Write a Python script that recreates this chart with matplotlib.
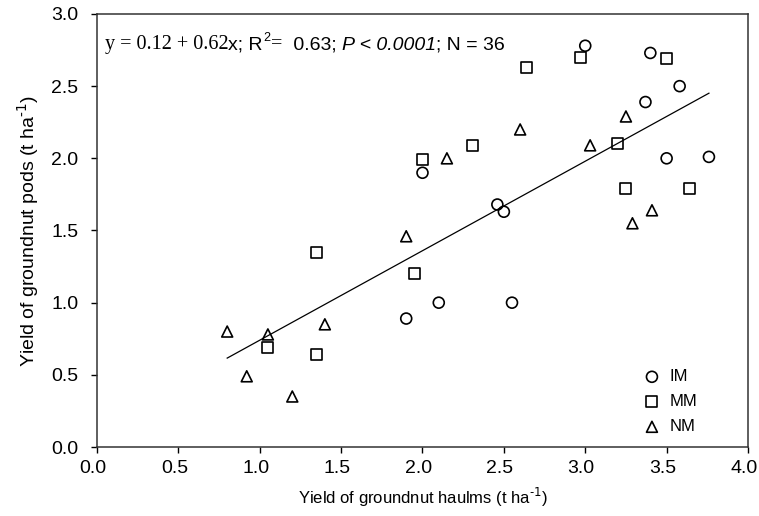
import matplotlib
matplotlib.use("Agg")
import matplotlib.pyplot as plt
import matplotlib.transforms as mtrans
import numpy as np

plt.rcParams['font.family'] = ['Liberation Sans', 'DejaVu Sans']

# haulm yield (x) and pod yield (y), t/ha, per treatment
im_x = [3.00, 3.40, 3.58, 3.37, 3.50, 3.76, 2.00, 2.46, 2.50, 2.10, 2.55, 1.90]
im_y = [2.78, 2.73, 2.50, 2.39, 2.00, 2.01, 1.90, 1.68, 1.63, 1.00, 1.00, 0.89]
mm_x = [2.97, 3.50, 3.20, 3.25, 3.64, 2.64, 2.31, 2.00, 1.95, 1.35, 1.05, 1.35]
mm_y = [2.70, 2.69, 2.10, 1.79, 1.79, 2.63, 2.09, 1.99, 1.20, 1.35, 0.69, 0.64]
nm_x = [3.25, 3.03, 3.41, 3.29, 2.60, 2.15, 1.90, 0.80, 1.05, 1.40, 0.92, 1.20]
nm_y = [2.29, 2.09, 1.64, 1.55, 2.20, 2.00, 1.46, 0.80, 0.78, 0.85, 0.49, 0.35]

intercept = 0.12
slope = 0.62
fit_range = [0.80, 3.76]

fig = plt.figure(figsize=(7.59, 5.16), dpi=100)
ax = fig.add_axes([0.1278, 0.1337, 0.8577, 0.8392])

mk = dict(s=62, facecolors='none', edgecolors='black', linewidths=1.2, zorder=3)
ax.scatter(im_x, im_y, marker='o', label='IM', **mk)
ax.scatter(mm_x, mm_y, marker='s', label='MM', **mk)
ax.scatter(nm_x, nm_y, marker='^', label='NM', **mk)

xf = np.array(fit_range)
ax.plot(xf, intercept + slope * xf, color='black', lw=0.9, zorder=2)

ax.set_xlim(0, 4.0)
ax.set_ylim(0, 3.0)
ax.set_xticks(np.arange(0, 4.01, 0.5))
ax.set_yticks(np.arange(0, 3.01, 0.5))
ax.xaxis.set_major_formatter(matplotlib.ticker.FormatStrFormatter('%.1f'))
ax.yaxis.set_major_formatter(matplotlib.ticker.FormatStrFormatter('%.1f'))
ax.tick_params(direction='out', length=4.5, width=1, labelsize=14, colors='black')
ax.tick_params(axis='x', pad=5)
ax.tick_params(axis='y', pad=9)
# x tick labels sit a few pixels left of their ticks in the original
shift = mtrans.ScaledTranslation(-4 / 100, 0, fig.dpi_scale_trans)
for lab in ax.get_xticklabels():
    lab.set_transform(lab.get_transform() + shift)
for sp in ax.spines.values():
    sp.set_linewidth(1.1)
    sp.set_color('#333333')

ax.set_xlabel(r'Yield of groundnut haulms (t ha$^{\text{-1}}$)', fontsize=12, labelpad=6)
ax.set_ylabel(r'Yield of groundnut pods (t ha$^{\text{-1}}$)', fontsize=14, labelpad=7)

leg = ax.legend(loc='lower right', frameon=False, fontsize=12, handletextpad=0.05,
                labelspacing=0.6, bbox_to_anchor=(0.945, -0.005))

# equation, chained pieces in mixed fonts
serif = ['Liberation Serif', 'DejaVu Serif']
pieces = [
    ('y = 0.12 + 0.62', dict(family=serif, size=14.5), 0, 0),
    ('x; R', dict(size=14), 0, 0),
    ('2', dict(size=9), 0, 7),
    ('= ', dict(family=serif, size=14.5), 1, -7),
    (' 0.63; ', dict(size=14), 0, 0),
    ('P < 0.0001', dict(size=14, style='italic'), 0, 0),
    ('; N = 36', dict(size=14), 0, 0),
]
prev = ax.text(0.012, 0.92, pieces[0][0], transform=ax.transAxes,
               va='baseline', ha='left', **pieces[0][1])
for txt, kw, dx, dy in pieces[1:]:
    prev = ax.annotate(txt, xy=(1, 0), xycoords=prev, xytext=(dx, dy),
                       textcoords='offset points', va='bottom', ha='left', **kw)

fig.savefig('out.png', dpi=100)
